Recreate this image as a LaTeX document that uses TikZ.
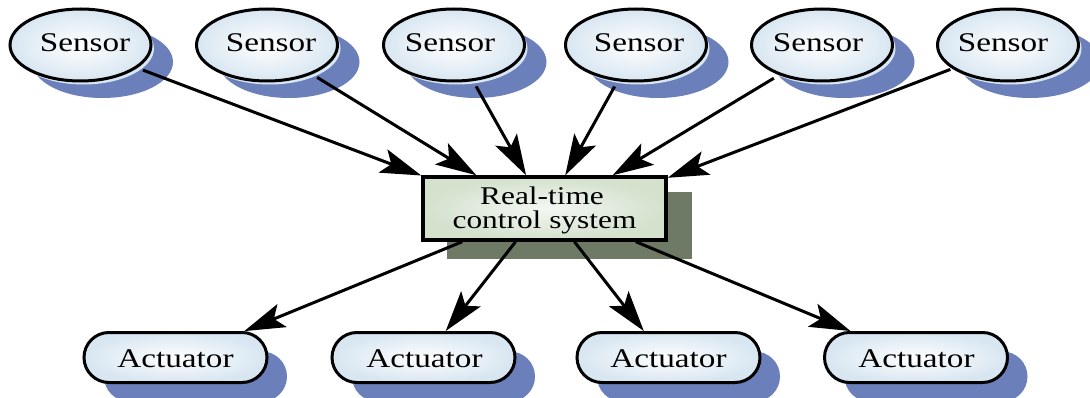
\documentclass[tikz,border=0pt]{standalone}
\usepackage{fontspec}
\usetikzlibrary{shapes.geometric,shapes.misc,arrows.meta}
\newfontfamily\lab[FakeStretch=1.23]{Liberation Serif}
\definecolor{shblue}{HTML}{6B7FBB}
\definecolor{shgreen}{HTML}{6E7A66}
\definecolor{halo}{HTML}{D8E6F2}
\definecolor{nodeblue}{HTML}{D8E6F1}
\definecolor{nodegreen}{HTML}{D3E1CD}
% label placed dx right of and dy above the node centre (baseline), without changing the node size
\newcommand{\lbl}[3]{\smash{\raisebox{#2pt}{\makebox[0pt]{\hspace*{#1pt}\hspace*{#1pt}#3}}}}
\tikzset{
 x=1pt,y=-1pt,
 every node/.style={font=\lab\fontsize{27}{27}\selectfont,text=black,inner sep=0pt},
 sensor/.style={ellipse,draw=black,line width=3pt,outer sep=1.5pt,minimum width=141pt,minimum height=72pt,inner color=white,outer color=nodeblue},
 sensorshadow/.style={ellipse,fill=shblue,outer sep=0pt,minimum width=141pt,minimum height=72pt},
 sensorhalo/.style={ellipse,fill=halo,outer sep=0pt,minimum width=141pt,minimum height=72pt},
 actuator/.style={rounded rectangle,draw=black,line width=3pt,outer sep=1.5pt,minimum width=183pt,minimum height=50pt,inner color=white,outer color=nodeblue},
 actshadow/.style={rounded rectangle,fill=shblue,outer sep=0pt,minimum width=183pt,minimum height=50pt},
 rtbox/.style={rectangle,draw=black,line width=3.5pt,outer sep=1.75pt,minimum width=243pt,minimum height=63pt,inner color=white!75!nodegreen,outer color=nodegreen},
 link/.style={line width=3pt,-{Stealth[length=41pt,width=25pt,inset=9pt,line width=0pt]}},
 sensorlink/.style={link,shorten <=6pt},
}
\begin{document}
\begin{tikzpicture}
\useasboundingbox (0,0) rectangle (1090,398);
\begin{scope}
\clip (0,0) rectangle (1090,398);
% shadows
\foreach \n/\cx in {1/80.5,2/267,3/454,4/636,5/822,6/1008}{
 \node[sensorshadow] (ss\n) at (\cx+22,62) {};
 \node[sensorhalo] (sh\n) at (\cx+3,48.5) {};
}
\foreach \n/\cx in {1/175.5,2/423.5,3/668.5,4/916}{
 \node[actshadow] (as\n) at (\cx+20,376.5) {};
}
\fill[shgreen] (447,192) rectangle (692,259);
% nodes
\node[sensor] (s1) at (80.5,45) {\lbl{4.5}{-6.5}{Sensor}};
\node[sensor] (s2) at (267,45) {\lbl{4}{-6.5}{Sensor}};
\node[sensor] (s3) at (454,45) {\lbl{-4}{-6.5}{Sensor}};
\node[sensor] (s4) at (636,45) {\lbl{3}{-6.5}{Sensor}};
\node[sensor] (s5) at (822,45) {\lbl{-4}{-6.5}{Sensor}};
\node[sensor] (s6) at (1008,45) {\lbl{-5}{-6.5}{Sensor}};
\node[rtbox] (rt) at (544.5,208.5) {\fontsize{25.5}{25.5}\selectfont\lbl{-2.5}{4.2}{Real-time}\lbl{0}{-19.8}{control system}};
\node[actuator] (a1) at (175.5,357.5) {\lbl{0}{-9.5}{Actuator}};
\node[actuator] (a2) at (423.5,357.5) {\lbl{1}{-9.5}{Actuator}};
\node[actuator] (a3) at (668.5,357.5) {\lbl{0}{-9.5}{Actuator}};
\node[actuator] (a4) at (916,357.5) {\lbl{0.5}{-9.5}{Actuator}};
% connectors
\draw[sensorlink] (s1.-22.1) -- (rt.165.35);
\draw[sensorlink] (s2.-33) -- (rt.154.3);
\draw[sensorlink] (s3.-62.9) -- (rt.119.5);
\draw[sensorlink] (s4.-117.1) -- (rt.58.2);
\draw[sensorlink] (s5.-145) -- (rt.26.4);
\draw[link,shorten <=2pt] (s6.-157.2) -- (rt.14.6);
\draw[link] (rt.202.4) -- (a1.21.2);
\draw[link] (rt.229.9) -- (a2.50.6);
\draw[link] (rt.-48.9) -- (a3.133.2);
\draw[link] (rt.-20.9) -- (a4.158.7);
\end{scope}
\end{tikzpicture}
\end{document}
